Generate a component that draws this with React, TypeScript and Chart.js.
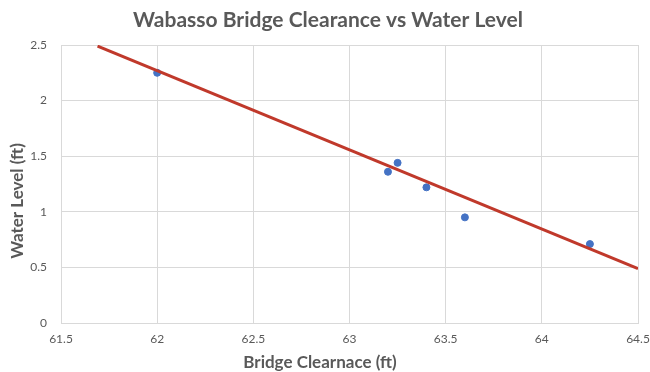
import React, { useEffect, useRef } from "react";
import { Chart, registerables } from "chart.js";

Chart.register(...registerables);

const clearance = [62, 63.2, 63.25, 63.4, 63.6, 64.25];
const waterLevel = [2.25, 1.36, 1.44, 1.22, 0.95, 0.71];
const trendX = [61.69, 64.5];
const trendY = [2.49, 0.49];

const chartTitle = "Wabasso Bridge Clearance vs Water Level";
const xTitle = "Bridge Clearnace (ft)";
const yTitle = "Water Level (ft)";

const TEXT = "#595959";
const GRID = "#d9d9d9";

const fmt = (v: any) => String(Math.round(Number(v) * 100) / 100);

const titles = {
  id: "titles",
  afterDraw(chart: any) {
    const c = chart.ctx;
    c.save();
    c.fillStyle = TEXT;
    c.textAlign = "center";
    c.textBaseline = "alphabetic";
    c.font = "bold 21px Lato";
    c.fillText(chartTitle, 328, 27);
    c.font = "bold 17px Lato";
    c.fillText(xTitle, 320, 368);
    c.textBaseline = "middle";
    c.translate(18, 201);
    c.rotate(-Math.PI / 2);
    c.fillText(yTitle, 0, 0);
    c.restore();
  },
};

export default function App() {
  const ref = useRef<HTMLCanvasElement>(null);
  useEffect(() => {
    document.body.style.margin = "0";
    const ctx = ref.current!;
    const chart = new Chart(ctx, {
      type: "scatter",
      data: {
        datasets: [
          {
            label: "Water Level",
            data: clearance.map((x, i) => ({ x, y: waterLevel[i] })),
            backgroundColor: "#4472C4",
            borderColor: "#4472C4",
            pointRadius: 3.5,
            order: 2,
          },
          {
            label: "Trend",
            type: "line",
            data: trendX.map((x, i) => ({ x, y: trendY[i] })),
            borderColor: "#C0392B",
            borderWidth: 3,
            pointRadius: 0,
            showLine: true,
            fill: false,
            order: 1,
          } as any,
        ],
      },
      plugins: [titles],
      options: {
        animation: false,
        responsive: false,
        maintainAspectRatio: false,
        layout: { padding: { left: 0, right: 12, top: 45, bottom: 0 } },
        plugins: {
          legend: { display: false },
          tooltip: { enabled: false },
          title: { display: false },
        },
        scales: {
          x: {
            type: "linear",
            min: 61.5,
            max: 64.5,
            afterFit: (s: any) => {
              s.paddingRight = 0;
              s.paddingLeft = 0;
              s.height = 49;
            },
            ticks: {
              stepSize: 0.5,
              color: TEXT,
              font: { family: "Lato", size: 12 },
              padding: 9,
              callback: fmt,
            },
            grid: { color: GRID, drawTicks: false },
            border: { color: GRID },
          },
          y: {
            type: "linear",
            min: 0,
            max: 2.5,
            afterFit: (s: any) => {
              s.width = 61;
              s.paddingTop = 0;
              s.paddingBottom = 0;
            },
            ticks: {
              stepSize: 0.5,
              color: TEXT,
              font: { family: "Lato", size: 12 },
              padding: 14,
              callback: fmt,
            },
            grid: { color: GRID, drawTicks: false },
            border: { color: GRID },
          },
        },
      },
    });
    return () => chart.destroy();
  }, []);
  return <canvas ref={ref} width={650} height={372} style={{ display: "block" }} />;
}
